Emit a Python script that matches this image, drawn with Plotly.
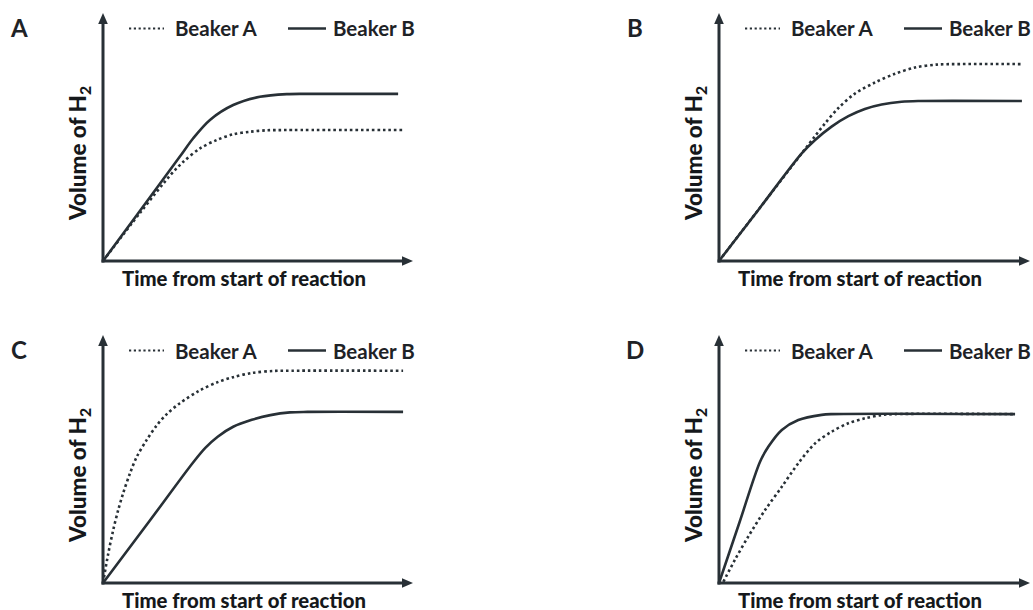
import plotly.graph_objects as go

W, H = 1033, 610
INK = "#283036"
TXT = "#1e2226"
FONT = "Lato"

# ---------------- data (time, volume) ----------------
panel_names = ["A", "B", "C", "D"]
series_names = ["Beaker A", "Beaker B"]
x_title = "Time from start of reaction"
y_title = "Volume of H<sub>2</sub>"

A_beakerA_t = [0, 1.2, 2.2, 2.59, 3.13, 3.67, 4.2, 4.74, 5.28, 5.9, 9.68]
A_beakerA_v = [0, 1.95, 3.5, 4.0, 4.54, 4.88, 5.11, 5.21, 5.27, 5.28, 5.28]
A_beakerB_t = [0, 1.2, 2.48, 2.91, 3.45, 4.2, 5.06, 5.93, 6.6, 9.52]
A_beakerB_v = [0, 2.04, 4.21, 4.95, 5.69, 6.29, 6.62, 6.73, 6.74, 6.74]

B_beakerA_t = [0, 1.3, 2.66, 3.09, 3.41, 3.84, 4.37, 5.02, 5.66, 6.3, 7.0, 7.75, 9.74]
B_beakerA_v = [0, 2.12, 4.34, 5.04, 5.55, 6.17, 6.75, 7.2, 7.55, 7.8, 7.92, 7.94, 7.94]
B_beakerB_t = [0, 1.3, 2.66, 3.09, 3.62, 4.16, 4.69, 5.23, 5.87, 6.4, 9.74]
B_beakerB_v = [0, 2.12, 4.34, 4.88, 5.42, 5.84, 6.13, 6.31, 6.42, 6.45, 6.45]

C_beakerA_t = [0, 0.17, 0.33, 0.49, 0.65, 0.87, 1.09, 1.41, 1.73, 2.05, 2.48, 3.1, 3.7, 4.2, 4.8, 5.5, 6.1, 9.68]
C_beakerA_v = [0, 1.19, 2.14, 2.94, 3.62, 4.42, 5.09, 5.77, 6.35, 6.8, 7.25, 7.75, 8.1, 8.3, 8.47, 8.55, 8.56, 8.56]
C_beakerB_t = [0, 1.5, 2.9, 3.3, 3.7, 4.2, 4.8, 5.4, 6.03, 6.6, 9.68]
C_beakerB_v = [0, 2.5, 4.85, 5.45, 5.9, 6.3, 6.58, 6.77, 6.88, 6.9, 6.9]

D_beakerA_t = [0.14, 0.51, 0.94, 1.48, 2.02, 2.55, 3.09, 3.62, 4.16, 4.69, 5.23, 5.66, 9.52]
D_beakerA_v = [0.05, 0.93, 1.87, 2.94, 3.88, 4.83, 5.63, 6.1, 6.44, 6.64, 6.77, 6.81, 6.81]
D_beakerB_t = [0, 0.66, 1.32, 1.59, 2.02, 2.55, 3.3, 3.6, 9.52]
D_beakerB_v = [0, 2.45, 4.89, 5.5, 6.17, 6.57, 6.78, 6.81, 6.81]

series = {
    "A": ((A_beakerA_t, A_beakerA_v), (A_beakerB_t, A_beakerB_v)),
    "B": ((B_beakerA_t, B_beakerA_v), (B_beakerB_t, B_beakerB_v)),
    "C": ((C_beakerA_t, C_beakerA_v), (C_beakerB_t, C_beakerB_v)),
    "D": ((D_beakerA_t, D_beakerA_v), (D_beakerB_t, D_beakerB_v)),
}

# ---------------- layout geometry (pixels) ----------------
# origin (ox, oy) and arrow tips (tx, ty) of each panel
geom = {
    "A": (103, 261, 413, 13),
    "B": (719, 261, 1030, 13),
    "C": (103, 583, 413, 335),
    "D": (719, 583, 1030, 335),
}
XR = [-0.4, 10.05]
YR = [-0.4, 10.4]
AX_MAX = 10
AX_W = 3.0
HEAD_L = 11.0
HEAD_HW = 4.8

DOT = "2.6px,2.9px"
LW = 2.6

fig = go.Figure()
annotations = []
shapes = []
layout_axes = {}


def px(xp):
    return xp / W


def py(yp):
    return 1 - yp / H


for i, name in enumerate(panel_names):
    ox, oy, tx, ty = geom[name]
    ux = (tx - ox) / AX_MAX
    uy = (oy - ty) / AX_MAX
    xd = [px(ox + XR[0] * ux), px(ox + XR[1] * ux)]
    yd = [py(oy - YR[0] * uy), py(oy - YR[1] * uy)]
    sfx = "" if i == 0 else str(i + 1)
    xr, yr = "x" + sfx, "y" + sfx
    layout_axes["xaxis" + sfx] = dict(domain=xd, range=XR, visible=False, anchor=yr, fixedrange=True)
    layout_axes["yaxis" + sfx] = dict(domain=yd, range=YR, visible=False, anchor=xr, fixedrange=True)

    (at, av), (bt, bv) = series[name]
    fig.add_trace(go.Scatter(x=at, y=av, mode="lines", xaxis=xr, yaxis=yr, name=series_names[0],
                             line=dict(color=INK, width=LW, dash=DOT, shape="spline", smoothing=0.9),
                             showlegend=False, hoverinfo="skip"))
    fig.add_trace(go.Scatter(x=bt, y=bv, mode="lines", xaxis=xr, yaxis=yr, name=series_names[1],
                             line=dict(color=INK, width=LW, shape="spline", smoothing=0.9),
                             showlegend=False, hoverinfo="skip"))

    # axis lines with arrow heads
    hx = AX_W / 2 / ux
    hy = AX_W / 2 / uy
    shapes.append(dict(type="line", xref=xr, yref=yr, x0=-hx, y0=0, x1=AX_MAX - 6 / ux, y1=0,
                       line=dict(color=INK, width=AX_W)))
    shapes.append(dict(type="line", xref=xr, yref=yr, x0=0, y0=-hy, x1=0, y1=AX_MAX - 6 / uy,
                       line=dict(color=INK, width=AX_W)))
    bx = AX_MAX - HEAD_L / ux
    shapes.append(dict(type="path", xref=xr, yref=yr,
                       path=f"M {AX_MAX},0 L {bx},{HEAD_HW / uy} L {bx},{-HEAD_HW / uy} Z",
                       fillcolor=INK, line=dict(width=0)))
    by = AX_MAX - HEAD_L / uy
    shapes.append(dict(type="path", xref=xr, yref=yr,
                       path=f"M 0,{AX_MAX} L {HEAD_HW / ux},{by} L {-HEAD_HW / ux},{by} Z",
                       fillcolor=INK, line=dict(width=0)))

    # panel letter
    annotations.append(dict(x=px(ox - 84), y=py(ty + 14), xref="paper", yref="paper",
                            text=name, showarrow=False, xanchor="center", yanchor="middle",
                            font=dict(family=FONT, size=24, color=TXT, weight=700)))
    # legend
    ly = ty + 15.5
    shapes.append(dict(type="line", xref="paper", yref="paper", x0=px(ox + 26), x1=px(ox + 61),
                       y0=py(ly), y1=py(ly), line=dict(color=INK, width=2.2, dash="2.2px,2.6px")))
    shapes.append(dict(type="line", xref="paper", yref="paper", x0=px(ox + 185), x1=px(ox + 223),
                       y0=py(ly), y1=py(ly), line=dict(color=INK, width=2.4)))
    annotations.append(dict(x=px(ox + 70), y=py(ly), xref="paper", yref="paper", text=series_names[0],
                            showarrow=False, xanchor="left", yanchor="middle",
                            font=dict(family=FONT, size=20.5, color=TXT, weight=700)))
    annotations.append(dict(x=px(ox + 228), y=py(ly), xref="paper", yref="paper", text=series_names[1],
                            showarrow=False, xanchor="left", yanchor="middle",
                            font=dict(family=FONT, size=20.5, color=TXT, weight=700)))
    # axis titles
    annotations.append(dict(x=px(ox + 141), y=py(oy + 17), xref="paper", yref="paper", text=x_title,
                            showarrow=False, xanchor="center", yanchor="middle",
                            font=dict(family=FONT, size=20.3, color="#15181b", weight=900)))
    annotations.append(dict(x=px(ox - 24), y=py(oy - 107), xref="paper", yref="paper", text=y_title,
                            showarrow=False, xanchor="center", yanchor="middle", textangle=-90,
                            font=dict(family=FONT, size=22.5, color="#15181b", weight=900)))

fig.update_layout(
    width=W, height=H,
    margin=dict(l=0, r=0, t=0, b=0),
    paper_bgcolor="white", plot_bgcolor="rgba(0,0,0,0)",
    showlegend=False,
    annotations=annotations,
    shapes=shapes,
    **layout_axes,
)

fig.write_html("out.html", config=dict(displayModeBar=False),
               post_script="document.body.style.margin='0';document.body.style.overflow='hidden';")
